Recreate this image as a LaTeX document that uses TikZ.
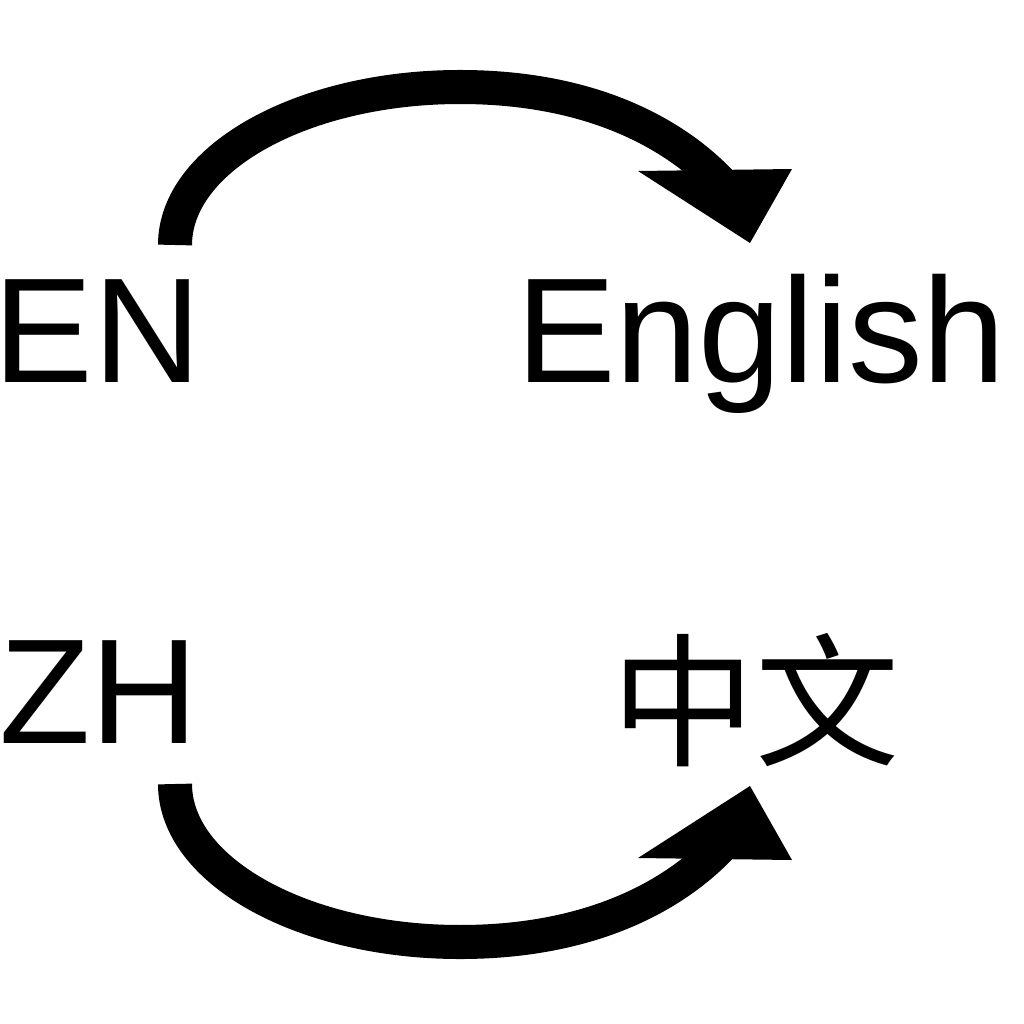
\documentclass[tikz,border=0pt]{standalone}
\usepackage{fontspec}
\setmainfont{Liberation Sans}
\newfontfamily\cjkfont{Noto Sans CJK SC}
\begin{document}
\begin{tikzpicture}[x=0.01cm,y=-0.01cm,
  lbl/.style={inner sep=0pt, outer sep=0pt, anchor=base west, font=\fontsize{42.5}{50}\selectfont},
  shaft/.style={line width=0.34cm, line cap=butt, draw=black},
  head/.style={fill=black}]
\useasboundingbox (0,0) rectangle (1024,1024);
\node[lbl] (EN) at (0,382) {\kern-0.06cm EN};
\node[lbl] (English) at (516,382) {English};
\node[lbl] (ZH) at (0,743) {\kern-0.01cm ZH};
\node[lbl, font=\fontsize{41}{48}\selectfont\cjkfont] (ZW) at (611.5,755.5) {中文};
% top arrow EN -> English
\coordinate (s1) at (175,245);
\coordinate (e1) at (724,186);
\coordinate (t1) at (750,243);
\draw[shaft] (s1) .. controls (175,158) and (303,87) .. (460,87) .. controls (600,87) and (682,140) .. (e1);
\fill[head] (638,171) -- (792,169) -- (t1) -- cycle;
% bottom arrow ZH -> 中文
\coordinate (s2) at (175,784);
\coordinate (e2) at (724,843);
\coordinate (t2) at (750,786);
\draw[shaft] (s2) .. controls (175,871) and (303,942) .. (460,942) .. controls (600,942) and (682,889) .. (e2);
\fill[head] (638,858) -- (792,860) -- (t2) -- cycle;
\end{tikzpicture}
\end{document}
